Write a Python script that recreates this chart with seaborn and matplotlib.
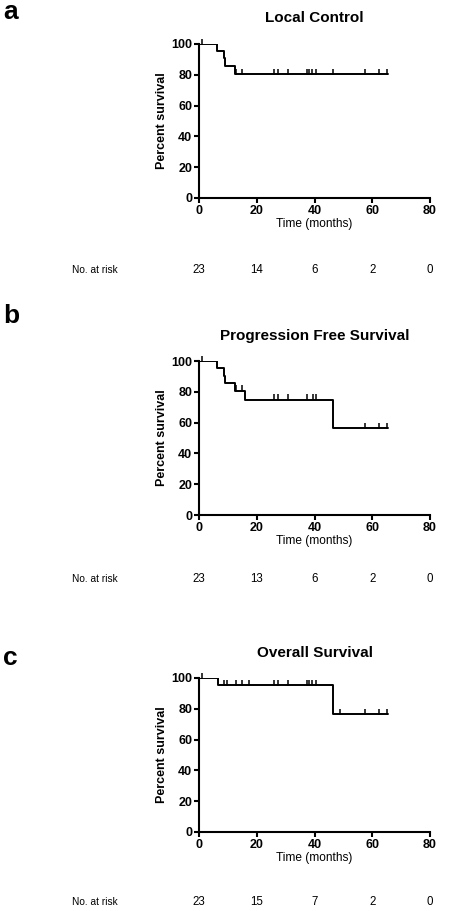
import matplotlib
matplotlib.use('Agg')
import matplotlib.pyplot as plt
import seaborn as sns
import numpy as np
import pandas as pd

sns.set_style('ticks')
plt.rcParams['font.family'] = ['Liberation Sans', 'DejaVu Sans']
plt.rcParams.update({'text.color': 'black', 'axes.labelcolor': 'black',
                     'xtick.color': 'black', 'ytick.color': 'black',
                     'axes.edgecolor': 'black'})

# Kaplan-Meier steps (months, percent)
lc_time = [0, 6.0, 8.6, 9.0, 12.3, 65.5]
lc_surv = [100, 95.5, 91.0, 85.5, 80.5, 80.5]
lc_cens = [0.8, 12.7, 14.7, 25.9, 27.4, 30.9, 37.2, 38.1, 39.2, 40.3, 46.2, 57.4, 62.4, 65.2]

pfs_time = [0, 6.0, 8.6, 9.0, 12.3, 15.8, 46.3, 65.5]
pfs_surv = [100, 95.2, 90.5, 85.5, 80.7, 74.7, 56.2, 56.2]
pfs_cens = [0.8, 12.7, 14.7, 25.9, 27.4, 30.9, 37.2, 39.6, 40.3, 57.4, 62.4, 65.2]

os_time = [0, 6.6, 46.3, 65.5]
os_surv = [100, 95.2, 76.5, 76.5]
os_cens = [0.8, 8.6, 9.7, 12.7, 14.7, 17.3, 25.9, 27.4, 30.9, 37.2, 38.1, 39.2, 40.3, 48.9, 57.4, 62.4, 65.2]

risk_times = [0, 20, 40, 60, 80]
lc_risk = [23, 14, 6, 2, 0]
pfs_risk = [23, 13, 6, 2, 0]
os_risk = [23, 15, 7, 2, 0]

titles = ['Local Control', 'Progression Free Survival', 'Overall Survival']
letters = ['a', 'b', 'c']

W, H = 449, 911
fig = plt.figure(figsize=(W / 100, H / 100), dpi=100)


def step_at(times, surv, t):
    i = np.searchsorted(times, t, side='right') - 1
    return surv[i]


def panel(top_px, times, surv, cens, risk, title, letter, title_px, letter_px, risk_px):
    left, right, bottom = 199.3, 430.0, top_px + 154
    ax = fig.add_axes([left / W, 1 - bottom / H, (right - left) / W, 154 / H])
    df = pd.DataFrame({'t': times, 's': surv})
    sns.lineplot(data=df, x='t', y='s', drawstyle='steps-post', color='black',
                 linewidth=1.4, ax=ax)
    # censor marks sit just above the curve
    cdf = pd.DataFrame({'t': cens, 's': [step_at(times, surv, c) + 1.6 for c in cens]})
    sns.scatterplot(data=cdf, x='t', y='s', marker='|', s=14, color='black',
                    linewidth=1.1, ax=ax, clip_on=False, zorder=3)
    ax.set_xlim(0, 80)
    ax.set_ylim(0, 100)
    ax.set_xticks([0, 20, 40, 60, 80])
    ax.set_yticks([0, 20, 40, 60, 80, 100])
    sns.despine(ax=ax)
    for sp in ['left', 'bottom']:
        ax.spines[sp].set_linewidth(1.5)
    ax.tick_params(length=3.6, width=1.5, labelsize=9, pad=1.5)
    for lab in ax.get_xticklabels() + ax.get_yticklabels():
        lab.set_fontweight('bold')
    ax.set_xlabel('Time (months)', fontsize=8.6, labelpad=1)
    ax.set_ylabel('Percent survival', fontsize=9, fontweight='bold', labelpad=2)
    fig.text((left + right) / 2 / W, 1 - title_px / H, title, ha='center', va='center',
             fontsize=11, fontweight='bold')
    fig.text(3 / W, 1 - letter_px / H, letter, ha='left', va='center',
             fontsize=19, fontweight='bold')
    fig.text(95 / W, 1 - risk_px / H, 'No. at risk', ha='center', va='center', fontsize=7.3)
    for rt, n in zip(risk_times, risk):
        ax.text(rt, 0, str(n), ha='center', va='center', fontsize=8.3, clip_on=False,
                transform=ax.get_xaxis_transform() + matplotlib.transforms.ScaledTranslation(
                    0, -(risk_px - bottom) / 100, fig.dpi_scale_trans))


panel(44, lc_time, lc_surv, lc_cens, lc_risk, titles[0], letters[0], 18, 12, 270)
panel(361, pfs_time, pfs_surv, pfs_cens, pfs_risk, titles[1], letters[1], 336, 316, 579)
panel(678, os_time, os_surv, os_cens, os_risk, titles[2], letters[2], 653, 658, 902)

fig.savefig('out.png', dpi=100)
